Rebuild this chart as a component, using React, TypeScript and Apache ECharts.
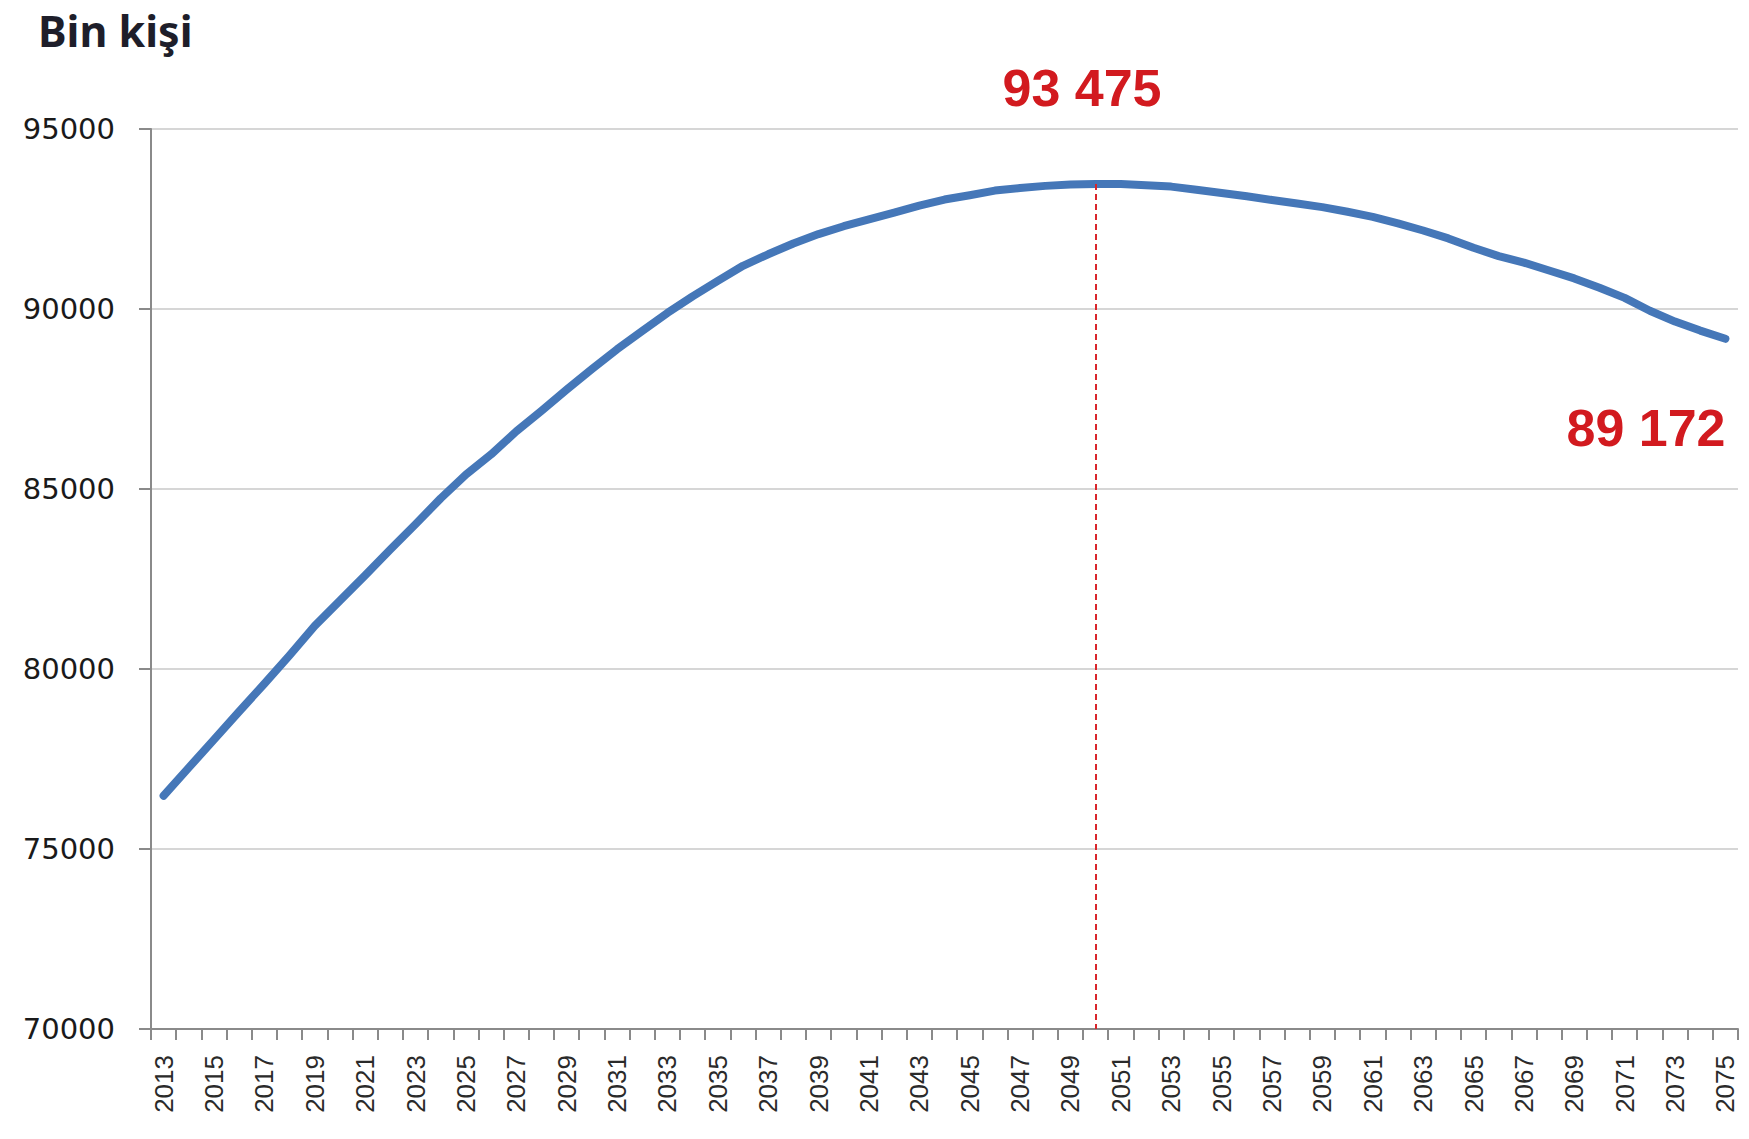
import React, { useEffect, useRef } from "react";
import * as echarts from "echarts";

const years = [
  "2013", "2014", "2015", "2016", "2017", "2018", "2019", "2020", "2021", "2022",
  "2023", "2024", "2025", "2026", "2027", "2028", "2029", "2030", "2031", "2032",
  "2033", "2034", "2035", "2036", "2037", "2038", "2039", "2040", "2041", "2042",
  "2043", "2044", "2045", "2046", "2047", "2048", "2049", "2050", "2051", "2052",
  "2053", "2054", "2055", "2056", "2057", "2058", "2059", "2060", "2061", "2062",
  "2063", "2064", "2065", "2066", "2067", "2068", "2069", "2070", "2071", "2072",
  "2073", "2074", "2075",
];

// Population, thousand persons
const population = [
  76480, 77260, 78040, 78820, 79590, 80380, 81200, 81900, 82600, 83320,
  84020, 84740, 85400, 85960, 86600, 87170, 87760, 88330, 88880, 89390,
  89890, 90350, 90780, 91200, 91520, 91820, 92080, 92300, 92490, 92680,
  92870, 93040, 93160, 93290, 93360, 93420, 93460, 93475, 93470, 93440,
  93400, 93310, 93220, 93130, 93030, 92930, 92830, 92700, 92560, 92380,
  92180, 91960, 91700, 91470, 91290, 91070, 90850, 90590, 90310, 89950,
  89650, 89400, 89172,
];

const yTicks = [70000, 75000, 80000, 85000, 90000, 95000];
const peakYear = "2050";
const peakValue = 93475;
const titleText = "Bin kişi";
const peakLabel = "93 475";
const endLabel = "89 172";

export default function App() {
  const ref = useRef<HTMLDivElement>(null);

  useEffect(() => {
    if (!ref.current) return;
    const chart = echarts.init(ref.current, undefined, { renderer: "svg" });
    chart.setOption({
      animation: false,
      backgroundColor: "#ffffff",
      grid: { left: 151, right: 11, top: 129, bottom: 110, containLabel: false },
      xAxis: {
        type: "category",
        data: years,
        boundaryGap: true,
        axisLine: { show: true, lineStyle: { color: "#8a8a8a", width: 2 } },
        axisTick: {
          show: true,
          interval: 0,
          length: 11,
          alignWithLabel: false,
          lineStyle: { color: "#8a8a8a", width: 2 },
        },
        axisLabel: {
          interval: 1,
          rotate: 90,
          margin: 26,
          fontSize: 26,
          fontFamily: "Liberation Sans",
          color: "#2a2a2a",
        },
        splitLine: { show: false },
      },
      yAxis: {
        type: "value",
        min: yTicks[0],
        max: yTicks[yTicks.length - 1],
        interval: yTicks[1] - yTicks[0],
        axisLine: { show: true, lineStyle: { color: "#8a8a8a", width: 2 } },
        axisTick: { show: true, length: 12, lineStyle: { color: "#8a8a8a", width: 2 } },
        axisLabel: {
          margin: 36,
          fontSize: 29,
          fontFamily: "DejaVu Sans",
          color: "#1a1a1a",
          formatter: (v: number) => String(v),
        },
        splitLine: { show: true, lineStyle: { color: "#d6d6d6", width: 2 } },
      },
      series: [
        {
          type: "line",
          data: population,
          showSymbol: false,
          symbol: "none",
          smooth: false,
          lineStyle: { color: "#4577b8", width: 8, cap: "round", join: "round" },
          markLine: {
            silent: true,
            symbol: ["none", "none"],
            label: { show: false },
            lineStyle: { color: "#d9262b", width: 2, type: [6, 4] },
            data: [
              [
                { coord: [peakYear, peakValue] },
                { coord: [peakYear, yTicks[0]] },
              ],
            ],
          },
        },
      ],
      graphic: [
        {
          type: "text",
          left: 38,
          top: 9,
          style: {
            text: titleText,
            font: 'bold 43px "Noto Sans"',
            fill: "#1e1e2a",
          },
        },
        {
          type: "text",
          x: 1082,
          y: 88,
          style: {
            text: peakLabel,
            font: 'bold 52px "Liberation Sans"',
            fill: "#d21a1f",
            align: "center",
            verticalAlign: "middle",
          },
        },
        {
          type: "text",
          x: 1646,
          y: 428,
          style: {
            text: endLabel,
            font: 'bold 52px "Liberation Sans"',
            fill: "#d21a1f",
            align: "center",
            verticalAlign: "middle",
          },
        },
      ],
    });
    return () => chart.dispose();
  }, []);

  return (
    <div
      ref={ref}
      style={{
        position: "absolute",
        left: 0,
        top: 0,
        width: 1749,
        height: 1139,
        background: "#ffffff",
      }}
    />
  );
}
